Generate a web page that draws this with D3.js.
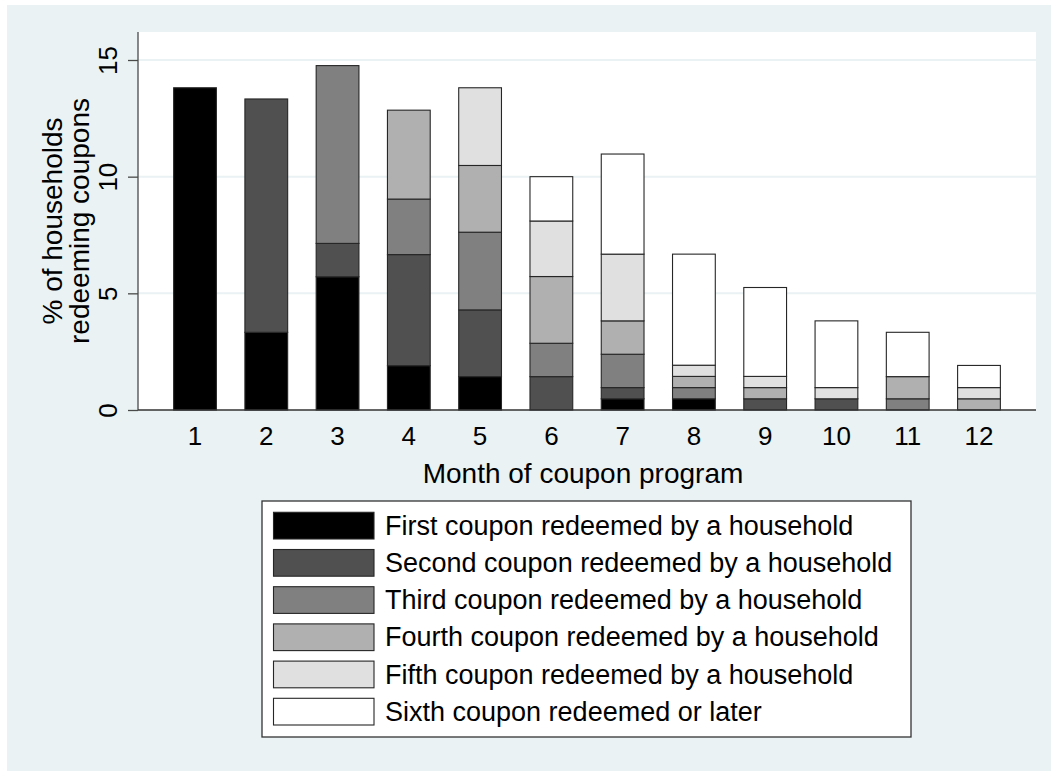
<!DOCTYPE html>
<html>
<head>
<meta charset="utf-8">
<script src="https://cdn.jsdelivr.net/npm/d3@7"></script>
<style>
  html, body { margin: 0; padding: 0; background: #ffffff; }
  svg { display: block; font-family: "Liberation Sans", Arial, sans-serif; }
</style>
</head>
<body>
<svg id="chart" width="1051" height="771"></svg>
<script>
// Month of the coupon program
const months = [1, 2, 3, 4, 5, 6, 7, 8, 9, 10, 11, 12];

// % of households redeeming coupons, split by how many coupons the household had redeemed
const firstCoupon  = [13.81, 3.33, 5.71, 1.90, 1.43, 0.00, 0.48, 0.48, 0.00, 0.00, 0.00, 0.00];
const secondCoupon = [0.00, 10.00, 1.43, 4.76, 2.86, 1.43, 0.48, 0.00, 0.48, 0.48, 0.00, 0.00];
const thirdCoupon  = [0.00, 0.00, 7.62, 2.38, 3.33, 1.43, 1.43, 0.48, 0.00, 0.00, 0.48, 0.00];
const fourthCoupon = [0.00, 0.00, 0.00, 3.81, 2.86, 2.86, 1.43, 0.48, 0.48, 0.00, 0.95, 0.48];
const fifthCoupon  = [0.00, 0.00, 0.00, 0.00, 3.33, 2.38, 2.86, 0.48, 0.48, 0.48, 0.00, 0.48];
const sixthCoupon  = [0.00, 0.00, 0.00, 0.00, 0.00, 1.90, 4.29, 4.76, 3.81, 2.86, 1.90, 0.95];

const seriesKeys = ["first", "second", "third", "fourth", "fifth", "sixth"];
const seriesLabels = [
  "First coupon redeemed by a household",
  "Second coupon redeemed by a household",
  "Third coupon redeemed by a household",
  "Fourth coupon redeemed by a household",
  "Fifth coupon redeemed by a household",
  "Sixth coupon redeemed or later"
];
const seriesColors = ["#000000", "#505050", "#808080", "#b0b0b0", "#e0e0e0", "#ffffff"];

const yTicks = [0, 5, 10, 15];

// Build the table for d3.stack
const seriesValues = [firstCoupon, secondCoupon, thirdCoupon, fourthCoupon, fifthCoupon, sixthCoupon];
const table = months.map((m, i) => {
  const row = { month: m };
  seriesKeys.forEach((k, j) => { row[k] = seriesValues[j][i]; });
  return row;
});

const svg = d3.select("#chart");
const W = 1051, H = 771;
const bg = "#eaf2f3";

// Graph background
svg.append("rect").attr("x", 7).attr("y", 5).attr("width", W - 7).attr("height", H - 5).attr("fill", bg);

const plot = { left: 138, right: 1036, top: 32, bottom: 410 };

// Plot region
svg.append("rect")
  .attr("x", plot.left).attr("y", plot.top)
  .attr("width", plot.right - plot.left).attr("height", plot.bottom - plot.top)
  .attr("fill", "#ffffff");

const x = d3.scaleBand()
  .domain(months)
  .range([plot.left, plot.right])
  .paddingInner(0.4)
  .paddingOuter(0.5);

const y = d3.scaleLinear()
  .domain([0, 16.2])
  .range([plot.bottom, plot.top]);

// Horizontal grid lines
svg.append("g")
  .selectAll("line")
  .data(yTicks.filter(t => t > 0))
  .join("line")
  .attr("x1", plot.left).attr("x2", plot.right)
  .attr("y1", d => y(d)).attr("y2", d => y(d))
  .attr("stroke", bg).attr("stroke-width", 2);

// Stacked bars
const stack = d3.stack().keys(seriesKeys);
const stacked = stack(table);

const layers = svg.append("g")
  .selectAll("g")
  .data(stacked)
  .join("g")
  .attr("fill", (d, i) => seriesColors[i]);

layers.selectAll("rect")
  .data(d => d.filter(s => s[1] - s[0] > 0))
  .join("rect")
  .attr("x", d => x(d.data.month))
  .attr("width", x.bandwidth())
  .attr("y", d => y(d[1]))
  .attr("height", d => y(d[0]) - y(d[1]))
  .attr("stroke", "#262626")
  .attr("stroke-width", 1.1);

// Y axis
const yAxis = d3.axisLeft(y).tickValues(yTicks).tickSize(10).tickPadding(10);
const gy = svg.append("g")
  .attr("transform", `translate(${plot.left},0)`)
  .call(yAxis);
gy.select(".domain").attr("d", `M0,${plot.top}V${plot.bottom}`).attr("stroke", "#4a4a4a").attr("stroke-width", 1.3);
gy.selectAll(".tick line").attr("stroke", "#4a4a4a").attr("stroke-width", 1.3);
gy.selectAll(".tick text")
  .attr("x", null).attr("dy", null)
  .attr("transform", "translate(-21,0) rotate(-90)")
  .attr("text-anchor", "middle")
  .attr("font-size", 26)
  .attr("font-family", "Liberation Sans, Arial, sans-serif")
  .attr("fill", "#000");

// X axis
const xAxis = d3.axisBottom(x).tickSize(0).tickPadding(17);
const gx = svg.append("g")
  .attr("transform", `translate(0,${plot.bottom})`)
  .call(xAxis);
gx.select(".domain").attr("d", `M${plot.left},0H${plot.right}`).attr("stroke", "#333").attr("stroke-width", 1.3);
gx.selectAll(".tick text")
  .attr("font-size", 26)
  .attr("font-family", "Liberation Sans, Arial, sans-serif")
  .attr("fill", "#000");

// Axis titles
svg.append("text")
  .attr("x", (plot.left + plot.right) / 2 - 4)
  .attr("y", 483)
  .attr("text-anchor", "middle")
  .attr("font-size", 28)
  .attr("fill", "#000")
  .text("Month of coupon program");

const yTitle = svg.append("text")
  .attr("transform", `translate(62,${(plot.top + plot.bottom) / 2}) rotate(-90)`)
  .attr("text-anchor", "middle")
  .attr("font-size", 28)
  .attr("fill", "#000");
yTitle.append("tspan").attr("x", 0).attr("dy", 0).text("% of households");
yTitle.append("tspan").attr("x", 0).attr("dy", 27).text("redeeming coupons");

// Legend
const legend = { x: 262, y: 501, w: 649, h: 236 };
svg.append("rect")
  .attr("x", legend.x).attr("y", legend.y)
  .attr("width", legend.w).attr("height", legend.h)
  .attr("fill", "#ffffff").attr("stroke", "#333").attr("stroke-width", 1.3);

const rowStep = 37.2;
const items = svg.append("g")
  .selectAll("g")
  .data(seriesLabels)
  .join("g")
  .attr("transform", (d, i) => `translate(0,${512.3 + i * rowStep})`);

items.append("rect")
  .attr("x", 273.5).attr("y", 0)
  .attr("width", 100.5).attr("height", 26.7)
  .attr("fill", (d, i) => seriesColors[i])
  .attr("stroke", "#262626").attr("stroke-width", 1.1);

items.append("text")
  .attr("x", 385)
  .attr("y", 13.4)
  .attr("dominant-baseline", "central")
  .attr("font-size", 27)
  .attr("fill", "#000")
  .text(d => d);
</script>
</body>
</html>
